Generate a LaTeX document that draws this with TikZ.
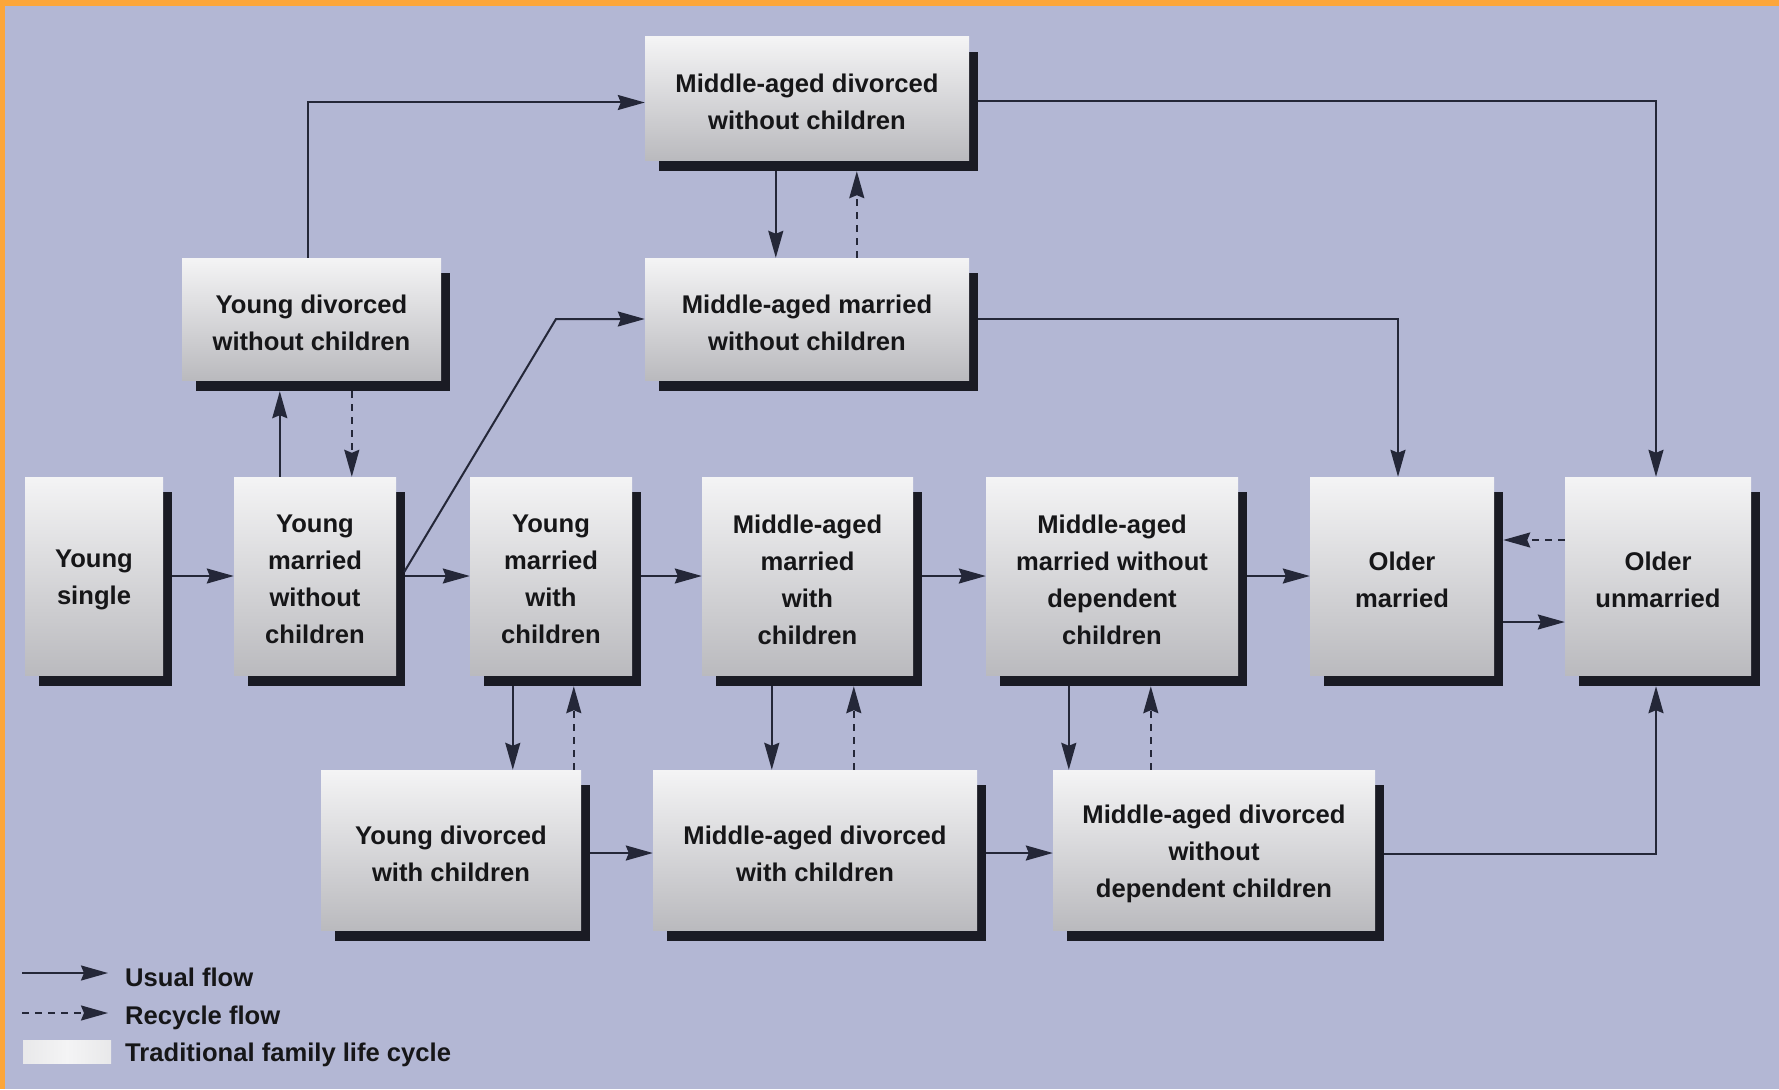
\documentclass[tikz,border=0pt]{standalone}
\usepackage{fontspec}
\setmainfont{Liberation Sans}
\usetikzlibrary{arrows.meta,calc}
\definecolor{bgc}{RGB}{179,183,212}
\definecolor{orng}{RGB}{252,166,58}
\definecolor{shd}{RGB}{26,27,36}
\definecolor{linec}{RGB}{36,39,56}
\definecolor{txt}{RGB}{22,22,24}
\definecolor{topc}{RGB}{244,244,245}
\definecolor{botc}{RGB}{186,186,190}
\pgfdeclarelayer{bottom}
\pgfdeclarelayer{background}
\pgfsetlayers{bottom,background,main}
\tikzset{
  fambox/.style={draw=none, inner sep=0pt, top color=topc, bottom color=botc},
  famtext/.style={inner sep=0pt, align=center, text=txt,
    font=\fontsize{25.6}{37}\selectfont\bfseries},
  flow/.style={draw=linec, line width=2pt, -{Stealth[length=27pt,width=15pt,inset=3pt]}},
  recycle/.style={flow, dash pattern=on 7pt off 6pt},
  legtext/.style={anchor=base west, text=txt, inner sep=0pt, font=\fontsize{25.6}{30}\selectfont\bfseries},
}
\newcommand\famnode[6]{%
  \node[fambox, minimum width={(#4-#2)*1pt}, minimum height={(#5-#3)*1pt}] (#1) at ({(#2+#4)/2},{(#3+#5)/2}) {};
  \node[famtext] (#1t) at ($(#1.center)+(0,3.5)$) {#6};
  \begin{pgfonlayer}{background}
    \fill[shd] ($(#1.north west)+(14,15)$) rectangle ($(#1.south east)+(9,11)$);
  \end{pgfonlayer}}
\begin{document}
\begin{tikzpicture}[x=1pt,y=-1pt]
\useasboundingbox (0,0) rectangle (1779,1089);
\begin{pgfonlayer}{bottom}
  \fill[bgc] (0,0) rectangle (1779,1089);
  \fill[orng] (0,0) rectangle (1779,6);
  \fill[orng] (0,0) rectangle (5,1089);
\end{pgfonlayer}

% boxes
\famnode{mdw}{645}{37}{969}{160}{Middle-aged divorced\\without children}
\famnode{mmw}{645}{258}{969}{380}{Middle-aged married\\without children}
\famnode{ydw}{182}{258}{441}{380}{Young divorced\\without children}
\famnode{ys}{25}{477}{163}{675}{Young\\single}
\famnode{ymw}{234}{477}{396}{675}{Young\\married\\without\\children}
\famnode{ymc}{470}{477}{632}{675}{Young\\married\\with\\children}
\famnode{mmc}{702}{477}{913}{675}{Middle-aged\\married\\with\\children}
\famnode{mmwd}{986}{477}{1238}{675}{Middle-aged\\married without\\dependent\\children}
\famnode{om}{1310}{477}{1494}{675}{Older\\married}
\famnode{ou}{1565}{477}{1751}{675}{Older\\unmarried}
\famnode{ydc}{321}{770}{581}{930}{Young divorced\\with children}
\famnode{mdc}{653}{770}{977}{930}{Middle-aged divorced\\with children}
\famnode{mdd}{1053}{770}{1375}{930}{Middle-aged divorced\\without\\dependent children}

% main row
\draw[flow] ($(ys.east)+(9,0)$) -- (ymw.west);
\draw[flow] ($(ymw.east)+(9,0)$) -- (ymc.west);
\draw[flow] ($(ymc.east)+(9,0)$) -- (mmc.west);
\draw[flow] ($(mmc.east)+(9,0)$) -- (mmwd.west);
\draw[flow] ($(mmwd.east)+(9,0)$) -- (om.west);
\draw[flow] ($(om.east)+(9,46)$) -- ($(ou.west)+(0,46)$);
\draw[recycle] ($(ou.west)+(0,-36)$) -- ($(om.east)+(9,-36)$);

% top
\draw[flow] ($(mdw.south west)+(131,11)$) -- ($(mmw.north west)+(131,0)$);
\draw[recycle] ($(mmw.north west)+(212,0)$) -- ($(mdw.south west)+(212,11)$);
\draw[flow] ($(ymw.north west)+(46,0)$) -- ($(ymw.north west |- ydw.south)+(46,11)$);
\draw[recycle] ($(ydw.south west)+(170,11)$) -- ($(ydw.south west |- ymw.north)+(170,0)$);
\draw[flow] ($(ydw.north west)+(126,0)$) |- ($(mdw.west)+(0,4)$);
\coordinate (dg) at (556,319);
\draw[flow] ($(ymw.east)+(8,-4)$) -- (dg) -- (mmw.west);
\draw[flow] ($(mdw.east)+(9,3)$) -| ($(ou.north)+(-2,0)$);
\draw[flow] ($(mmw.east)+(9,0)$) -| ($(om.north)+(-4,0)$);

% bottom
\draw[flow] ($(ymc.south west)+(43,11)$) -- ($(ymc.south west |- ydc.north)+(43,0)$);
\draw[recycle] ($(ymc.south west |- ydc.north)+(104,0)$) -- ($(ymc.south west)+(104,11)$);
\draw[flow] ($(mmc.south west)+(70,11)$) -- ($(mmc.south west |- mdc.north)+(70,0)$);
\draw[recycle] ($(mmc.south west |- mdc.north)+(152,0)$) -- ($(mmc.south west)+(152,11)$);
\draw[flow] ($(mmwd.south west)+(83,11)$) -- ($(mmwd.south west |- mdd.north)+(83,0)$);
\draw[recycle] ($(mmwd.south west |- mdd.north)+(165,0)$) -- ($(mmwd.south west)+(165,11)$);
\draw[flow] ($(ydc.east)+(9,3)$) -- ($(mdc.west)+(0,3)$);
\draw[flow] ($(mdc.east)+(9,3)$) -- ($(mdd.west)+(0,3)$);
\draw[flow] ($(mdd.east)+(9,4)$) -| ($(ou.south)+(-2,11)$);

% legend
\coordinate (l1a) at (22,973);
\coordinate (l1b) at (108,973);
\coordinate (l2a) at (22,1013);
\coordinate (l2b) at (108,1013);
\draw[flow] (l1a) -- (l1b);
\draw[recycle] (l2a) -- (l2b);
\node[draw=none, minimum width=88pt, minimum height=23pt, inner sep=0pt,
  left color=topc!80!botc, right color=topc!80!botc, middle color=topc] (legbox) at (67,1051.5) {};
\node[legtext] (lg1) at (125,986) {Usual flow};
\node[legtext] (lg2) at (125,1024) {Recycle flow};
\node[legtext] (lg3) at (125,1061) {Traditional family life cycle};
\end{tikzpicture}
\end{document}
